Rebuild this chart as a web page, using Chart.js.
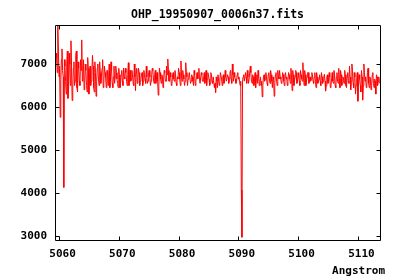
<!DOCTYPE html>
<html>
<head>
<meta charset="utf-8">
<script src="https://cdn.jsdelivr.net/npm/chart.js@4/dist/chart.umd.min.js"></script>
<style>
html,body{margin:0;padding:0;background:#fff;}
#c{display:block;}
</style>
</head>
<body>
<canvas id="c" width="400" height="280"></canvas>
<script>
const chartTitle = 'OHP_19950907_0006n37.fits';
const xLabel = 'Angstrom';
const xTicks = [5060, 5070, 5080, 5090, 5100, 5110];
const yTicks = [3000, 4000, 5000, 6000, 7000];
const xMin = 5059.33, xMax = 5113.7;
const yMin = 2907, yMax = 7907;

const wavelength = [
5059.4,5059.5,5059.6,5059.7,5059.8,5059.9,5060.0,5060.1,5060.2,5060.3,5060.4,5060.5,5060.6,5060.7,5060.8,5060.9,5061.0,5061.1,5061.2,5061.3,
5061.4,5061.5,5061.6,5061.7,5061.8,5061.9,5062.0,5062.1,5062.2,5062.3,5062.4,5062.5,5062.6,5062.7,5062.8,5062.9,5063.0,5063.1,5063.2,5063.3,
5063.4,5063.5,5063.6,5063.7,5063.8,5063.9,5064.0,5064.1,5064.2,5064.3,5064.4,5064.5,5064.6,5064.7,5064.8,5064.9,5065.0,5065.1,5065.2,5065.3,
5065.4,5065.5,5065.6,5065.7,5065.8,5065.9,5066.0,5066.1,5066.2,5066.3,5066.4,5066.5,5066.6,5066.7,5066.8,5066.9,5067.0,5067.1,5067.2,5067.3,
5067.4,5067.5,5067.6,5067.7,5067.8,5067.9,5068.0,5068.1,5068.2,5068.3,5068.4,5068.5,5068.6,5068.7,5068.8,5068.9,5069.0,5069.1,5069.2,5069.3,
5069.4,5069.5,5069.6,5069.7,5069.8,5069.9,5070.0,5070.1,5070.2,5070.3,5070.4,5070.5,5070.6,5070.7,5070.8,5070.9,5071.0,5071.1,5071.2,5071.3,
5071.4,5071.5,5071.6,5071.7,5071.8,5071.9,5072.0,5072.1,5072.2,5072.3,5072.4,5072.5,5072.6,5072.7,5072.8,5072.9,5073.0,5073.1,5073.2,5073.3,
5073.4,5073.5,5073.6,5073.7,5073.8,5073.9,5074.0,5074.1,5074.2,5074.3,5074.4,5074.5,5074.6,5074.7,5074.8,5074.9,5075.0,5075.1,5075.2,5075.3,
5075.4,5075.5,5075.6,5075.7,5075.8,5075.9,5076.0,5076.1,5076.2,5076.3,5076.4,5076.5,5076.6,5076.7,5076.8,5076.9,5077.0,5077.1,5077.2,5077.3,
5077.4,5077.5,5077.6,5077.7,5077.8,5077.9,5078.0,5078.1,5078.2,5078.3,5078.4,5078.5,5078.6,5078.7,5078.8,5078.9,5079.0,5079.1,5079.2,5079.3,
5079.4,5079.5,5079.6,5079.7,5079.8,5079.9,5080.0,5080.1,5080.2,5080.3,5080.4,5080.5,5080.6,5080.7,5080.8,5080.9,5081.0,5081.1,5081.2,5081.3,
5081.4,5081.5,5081.6,5081.7,5081.8,5081.9,5082.0,5082.1,5082.2,5082.3,5082.4,5082.5,5082.6,5082.7,5082.8,5082.9,5083.0,5083.1,5083.2,5083.3,
5083.4,5083.5,5083.6,5083.7,5083.8,5083.9,5084.0,5084.1,5084.2,5084.3,5084.4,5084.5,5084.6,5084.7,5084.8,5084.9,5085.0,5085.1,5085.2,5085.3,
5085.4,5085.5,5085.6,5085.7,5085.8,5085.9,5086.0,5086.1,5086.2,5086.3,5086.4,5086.5,5086.6,5086.7,5086.8,5086.9,5087.0,5087.1,5087.2,5087.3,
5087.4,5087.5,5087.6,5087.7,5087.8,5087.9,5088.0,5088.1,5088.2,5088.3,5088.4,5088.5,5088.6,5088.7,5088.8,5088.9,5089.0,5089.1,5089.2,5089.3,
5089.4,5089.5,5089.6,5089.7,5089.8,5089.9,5090.0,5090.1,5090.2,5090.3,5090.4,5090.5,5090.6,5090.7,5090.8,5090.9,5091.0,5091.1,5091.2,5091.3,
5091.4,5091.5,5091.6,5091.7,5091.8,5091.9,5092.0,5092.1,5092.2,5092.3,5092.4,5092.5,5092.6,5092.7,5092.8,5092.9,5093.0,5093.1,5093.2,5093.3,
5093.4,5093.5,5093.6,5093.7,5093.8,5093.9,5094.0,5094.1,5094.2,5094.3,5094.4,5094.5,5094.6,5094.7,5094.8,5094.9,5095.0,5095.1,5095.2,5095.3,
5095.4,5095.5,5095.6,5095.7,5095.8,5095.9,5096.0,5096.1,5096.2,5096.3,5096.4,5096.5,5096.6,5096.7,5096.8,5096.9,5097.0,5097.1,5097.2,5097.3,
5097.4,5097.5,5097.6,5097.7,5097.8,5097.9,5098.0,5098.1,5098.2,5098.3,5098.4,5098.5,5098.6,5098.7,5098.8,5098.9,5099.0,5099.1,5099.2,5099.3,
5099.4,5099.5,5099.6,5099.7,5099.8,5099.9,5100.0,5100.1,5100.2,5100.3,5100.4,5100.5,5100.6,5100.7,5100.8,5100.9,5101.0,5101.1,5101.2,5101.3,
5101.4,5101.5,5101.6,5101.7,5101.8,5101.9,5102.0,5102.1,5102.2,5102.3,5102.4,5102.5,5102.6,5102.7,5102.8,5102.9,5103.0,5103.1,5103.2,5103.3,
5103.4,5103.5,5103.6,5103.7,5103.8,5103.9,5104.0,5104.1,5104.2,5104.3,5104.4,5104.5,5104.6,5104.7,5104.8,5104.9,5105.0,5105.1,5105.2,5105.3,
5105.4,5105.5,5105.6,5105.7,5105.8,5105.9,5106.0,5106.1,5106.2,5106.3,5106.4,5106.5,5106.6,5106.7,5106.8,5106.9,5107.0,5107.1,5107.2,5107.3,
5107.4,5107.5,5107.6,5107.7,5107.8,5107.9,5108.0,5108.1,5108.2,5108.3,5108.4,5108.5,5108.6,5108.7,5108.8,5108.9,5109.0,5109.1,5109.2,5109.3,
5109.4,5109.5,5109.6,5109.7,5109.8,5109.9,5110.0,5110.1,5110.2,5110.3,5110.4,5110.5,5110.6,5110.7,5110.8,5110.9,5111.0,5111.1,5111.2,5111.3,
5111.4,5111.5,5111.6,5111.7,5111.8,5111.9,5112.0,5112.1,5112.2,5112.3,5112.4,5112.5,5112.6,5112.7,5112.8,5112.9,5113.0,5113.1,5113.2,5113.3,
5113.4,5113.5,5113.6
];

const flux = [
6900,7250,7150,6800,7900,7300,6700,6950,5760,6600,7100,7350,6850,6700,4130,7100,6950,6600,6300,7000,
7300,6200,6400,7250,7000,6500,7540,6950,6150,6400,6900,7050,6500,6600,7200,7300,6450,6350,7050,6900,
6600,6500,7100,6850,7560,6600,6700,7100,6400,6550,7000,6850,6500,6350,7150,6900,6300,6700,6950,6500,
6600,6850,7200,6950,6450,6350,7050,6800,6250,6600,6900,7000,6650,6500,7050,6800,6550,6700,6900,7100,
6450,6550,6950,6800,6700,6450,6850,6850,6500,6700,7000,6450,6600,7050,6850,6550,6450,6700,6950,6550,
6700,6950,6800,6650,6550,6450,6900,6750,6450,6550,6750,6850,6600,6500,6900,6700,6650,6900,6800,6600,
6500,6750,7030,6500,6700,6850,6600,6650,6850,6750,6550,6500,7000,6700,6380,6800,6900,6550,6650,6900,
6800,6500,6600,6650,6750,6800,6500,6600,6850,6750,6650,6550,6950,6700,6550,6600,6800,6850,6700,6500,
6600,6750,6900,6850,6650,6550,6750,6850,6550,6650,6800,6600,6275,6500,6900,6800,6650,6550,6750,6700,
6450,6650,6850,6800,6600,6600,6950,6750,7117,6850,6600,6600,6800,6700,6500,6550,6750,6800,6650,6600,
6850,6750,6550,6500,6700,6650,6900,6800,6650,6500,7070,6700,6600,6850,6750,6650,6500,6600,7030,6800,
6700,6500,6650,6700,6800,6800,6550,6600,6750,6700,6600,6500,6850,6750,6500,6600,6700,6800,6650,6700,
6900,6650,6550,6550,6800,6750,6600,6600,6700,6800,6550,6650,6850,6500,6650,6800,6750,6650,6500,6550,
6800,6750,6600,6550,6700,6700,6450,6550,6338,6700,6600,6450,6750,6750,6500,6600,6800,6800,6650,6500,
6700,6750,6550,6600,6850,6700,6600,6600,6750,6700,6550,6650,6800,6850,6650,6550,7000,6750,6600,6800,
6700,6650,6550,6600,6750,6800,6650,6700,6600,6500,6600,4070,2970,6600,6700,6750,6600,6600,6800,6700,
6550,6850,6700,6550,6650,6650,6950,6800,6600,6550,6750,6700,6500,6600,6800,6450,6650,6750,6550,6850,
6700,6500,6600,6700,6500,6600,6235,6500,6700,6750,6600,6650,6800,6700,6550,6500,6750,6800,6650,6550,
6850,6750,6600,6450,6700,6650,6250,6550,6750,6800,6600,6500,6850,6700,6650,6850,6700,6650,6550,6600,
6800,6750,6600,6500,6750,6800,6650,6700,6500,6600,6800,6750,6650,6550,6900,6700,6380,6850,6750,6500,
6600,6700,6850,6800,6550,6600,6700,6800,6600,6500,6850,6750,6650,6600,7030,6700,6500,6850,6750,6500,
6600,6700,6800,6800,6550,6600,6700,6600,6650,6800,6750,6600,6550,6700,6800,6600,6450,6800,6700,6550,
6600,6650,6750,6600,6500,6800,6700,6550,6600,6700,6760,6600,6370,6500,6700,6750,6550,6600,6800,6700,
6450,6500,6650,6800,6600,6550,6850,6750,6500,6450,6700,6800,6600,6550,6900,6650,6450,6850,6750,6500,
6550,6700,6650,6550,6850,6750,6500,6450,6700,6800,6600,6550,6950,6700,6400,6600,7000,6850,6550,6450,
6800,6700,6300,6500,6650,6800,6134,6500,6750,6650,6500,6350,6850,6700,6160,6500,7000,6800,6600,6700,
6450,6500,6800,6900,6550,6450,6700,6650,6400,6500,6750,6800,6550,6450,6650,6600,6300,6750,6700,6500,
6600,6700,6550
];

const FONT = "'DejaVu Sans Mono', monospace";

const framePlugin = {
  id: 'frame',
  afterDatasetsDraw(chart) {
    const ctx = chart.ctx;
    const a = chart.chartArea;
    const xs = chart.scales.x, ys = chart.scales.y;
    ctx.save();
    ctx.strokeStyle = '#000';
    ctx.lineWidth = 1;
    const L = Math.round(a.left) + 0.5, R = Math.round(a.right) + 0.5;
    const T = Math.round(a.top) + 0.5, B = Math.round(a.bottom) + 0.5;
    ctx.beginPath();
    ctx.rect(L, T, R - L, B - T);
    xTicks.forEach(v => {
      const px = Math.round(xs.getPixelForValue(v)) + 0.5;
      ctx.moveTo(px, B); ctx.lineTo(px, B - 4);
      ctx.moveTo(px, T); ctx.lineTo(px, T + 4);
    });
    yTicks.forEach(v => {
      const py = Math.round(ys.getPixelForValue(v)) + 0.5;
      ctx.moveTo(L, py); ctx.lineTo(L + 4, py);
      ctx.moveTo(R, py); ctx.lineTo(R - 4, py);
    });
    ctx.stroke();
    ctx.fillStyle = '#000';
    ctx.font = 'bold 11.5px ' + FONT;
    ctx.textAlign = 'center';
    ctx.textBaseline = 'alphabetic';
    ctx.fillText(chartTitle, (a.left + a.right) / 2, 18);
    ctx.font = 'bold 11px ' + FONT;
    ctx.textAlign = 'right';
    ctx.fillText(xLabel, 385, 274);
    ctx.restore();
  }
};

new Chart(document.getElementById('c'), {
  type: 'line',
  data: {
    datasets: [{
      data: wavelength.map((w, i) => ({x: w, y: flux[i]})),
      borderColor: '#ff0000',
      borderWidth: 1,
      pointRadius: 0,
      tension: 0,
      fill: false
    }]
  },
  options: {
    responsive: false,
    animation: false,
    devicePixelRatio: 1,
    layout: {padding: {left: 0, right: 20, top: 25, bottom: 0}},
    plugins: {legend: {display: false}, title: {display: false}, tooltip: {enabled: false}},
    scales: {
      x: {
        type: 'linear',
        min: xMin, max: xMax,
        afterBuildTicks: s => { s.ticks = xTicks.map(v => ({value: v})); },
        afterFit: s => { s.height = 40; },
        grid: {display: false, drawTicks: false},
        border: {display: false},
        ticks: {
          color: '#000', font: {family: FONT, size: 11, weight: 'bold'},
          padding: 8, labelOffset: 3.5, maxRotation: 0, autoSkip: false,
          callback: v => String(v)
        }
      },
      y: {
        type: 'linear',
        min: yMin, max: yMax,
        afterBuildTicks: s => { s.ticks = yTicks.map(v => ({value: v})); },
        afterFit: s => { s.width = 55; },
        grid: {display: false, drawTicks: false},
        border: {display: false},
        ticks: {
          color: '#000', font: {family: FONT, size: 11, weight: 'bold'},
          padding: 8, autoSkip: false,
          callback: v => String(v)
        }
      }
    }
  },
  plugins: [framePlugin]
});
</script>
</body>
</html>
